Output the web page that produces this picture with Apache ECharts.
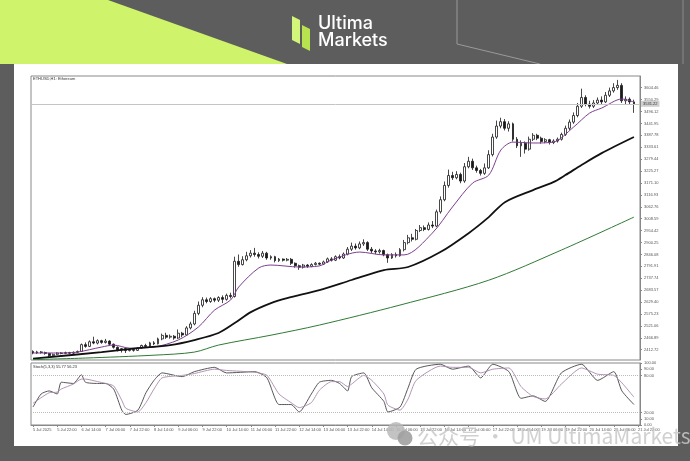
<!DOCTYPE html>
<html><head><meta charset="utf-8">
<script src="https://cdn.jsdelivr.net/npm/echarts@6/dist/echarts.min.js"></script>
<style>html,body{margin:0;padding:0;background:#5d5d5d;}#c{width:690px;height:461px;}</style>
</head><body><div id="c"></div>
<script>
// ---- data ----
const xLabels = ["5 Jul 2025","5 Jul 22:00","6 Jul 14:00","7 Jul 06:00","7 Jul 22:00","8 Jul 14:00","9 Jul 06:00","9 Jul 22:00","10 Jul 14:00","11 Jul 06:00","11 Jul 22:00","12 Jul 14:00","13 Jul 06:00","13 Jul 22:00","14 Jul 14:00","15 Jul 06:00","15 Jul 22:00","16 Jul 14:00","17 Jul 06:00","17 Jul 22:00","18 Jul 14:00","19 Jul 06:00","19 Jul 22:00","20 Jul 14:00","21 Jul 06:00","21 Jul 22:00"];
const priceTicks = [3604.46,3550.29,3496.12,3441.95,3387.78,3333.61,3279.44,3225.27,3171.10,3116.93,3062.76,3008.59,2954.42,2900.25,2846.08,2791.91,2737.74,2683.57,2629.40,2575.23,2521.06,2466.89,2412.72];
const stochTicks = [0,10,20,80,90,100];
// [open, close, low, high]
const ohlc = [
[2405,2398,2392,2410],[2398,2403,2394,2408],[2403,2400,2395,2407],[2400,2396,2390,2404],[2396,2386,2378,2399],
[2386,2392,2380,2395],[2392,2398,2389,2401],[2398,2396,2392,2402],[2396,2400,2393,2404],[2400,2397,2393,2403],
[2397,2401,2394,2405],[2401,2405,2398,2409],[2405,2436,2403,2441],[2436,2428,2422,2446],[2428,2449,2425,2455],
[2449,2443,2438,2472],[2443,2454,2437,2460],[2454,2446,2440,2458],[2446,2452,2441,2462],[2452,2438,2432,2456],
[2438,2424,2418,2441],[2424,2412,2405,2428],[2412,2418,2400,2421],[2418,2409,2398,2422],[2409,2414,2405,2419],
[2414,2410,2404,2418],[2410,2420,2407,2424],[2420,2432,2416,2436],[2432,2428,2423,2440],[2428,2444,2425,2449],
[2444,2440,2434,2452],[2440,2462,2437,2468],[2462,2478,2456,2486],[2478,2470,2462,2490],[2470,2474,2463,2482],
[2474,2466,2458,2480],[2466,2488,2462,2505],[2488,2480,2470,2494],[2480,2512,2476,2520],[2512,2530,2505,2540],
[2530,2578,2524,2590],[2578,2615,2570,2632],[2615,2640,2606,2652],[2640,2632,2624,2650],[2632,2645,2626,2652],
[2645,2638,2629,2650],[2638,2650,2630,2656],[2650,2642,2625,2660],[2642,2660,2636,2668],[2660,2655,2646,2672],
[2655,2815,2650,2836],[2815,2800,2790,2846],[2800,2822,2796,2838],[2822,2840,2815,2858],[2840,2852,2832,2866],
[2852,2846,2836,2876],[2846,2838,2828,2856],[2838,2852,2830,2862],[2852,2830,2822,2858],[2830,2836,2822,2842],
[2836,2818,2810,2840],[2818,2825,2812,2830],[2825,2820,2814,2828],[2820,2824,2815,2830],[2824,2806,2798,2830],
[2806,2795,2786,2810],[2795,2788,2776,2800],[2788,2798,2782,2803],[2798,2792,2785,2802],[2792,2800,2788,2806],
[2800,2806,2796,2812],[2806,2802,2797,2810],[2802,2812,2798,2818],[2812,2826,2808,2832],[2826,2820,2814,2834],
[2820,2836,2816,2842],[2836,2830,2824,2846],[2830,2848,2826,2855],[2848,2870,2842,2880],[2870,2884,2862,2900],
[2884,2876,2868,2896],[2876,2894,2870,2905],[2894,2900,2885,2915],[2900,2870,2862,2906],[2870,2862,2852,2880],
[2862,2858,2848,2870],[2858,2864,2850,2872],[2864,2845,2838,2868],[2845,2830,2808,2850],[2830,2846,2826,2852],
[2846,2840,2832,2855],[2840,2868,2836,2875],[2868,2900,2860,2912],[2900,2922,2892,2935],[2922,2915,2905,2940],
[2915,2955,2910,2962],[2955,2968,2948,2980],[2968,2960,2952,2978],[2960,2980,2955,2992],[2980,2975,2966,2998],
[2975,3040,2970,3050],[3040,3095,3032,3110],[3095,3160,3088,3178],[3160,3205,3150,3232],[3205,3195,3185,3222],
[3195,3210,3188,3225],[3210,3180,3170,3218],[3180,3245,3172,3262],[3245,3270,3238,3290],[3270,3240,3230,3282],
[3240,3228,3218,3250],[3228,3215,3205,3235],[3215,3240,3208,3260],[3240,3300,3235,3320],[3300,3380,3292,3395],
[3380,3430,3372,3455],[3430,3450,3420,3468],[3450,3420,3410,3462],[3420,3440,3405,3452],[3440,3370,3360,3446],
[3370,3340,3330,3380],[3340,3352,3290,3365],[3352,3325,3305,3360],[3325,3370,3318,3382],[3370,3388,3362,3398],
[3388,3375,3366,3395],[3375,3360,3350,3382],[3360,3368,3352,3375],[3368,3355,3346,3372],[3355,3362,3348,3370],
[3362,3370,3355,3378],[3370,3392,3364,3400],[3392,3420,3385,3432],[3420,3448,3412,3460],[3448,3478,3440,3492],
[3478,3520,3470,3535],[3520,3560,3512,3600],[3560,3530,3520,3570],[3530,3520,3510,3545],[3520,3535,3512,3548],
[3535,3548,3526,3560],[3548,3540,3530,3565],[3540,3570,3535,3585],[3570,3590,3562,3605],[3590,3605,3582,3625],
[3605,3615,3595,3640],[3615,3545,3535,3625],[3545,3552,3530,3565],[3552,3540,3528,3560],[3540,3531,3490,3550]
];
// moving averages, [bar index, value]
const maFast = [[0,2398],[7,2398],[11,2402],[17,2425],[20,2434],[24,2420],[30,2425],[36,2457],[41,2516],[45,2593],[49,2639],[51,2698],[56,2785],[59,2798],[66,2789],[71,2794],[74,2821],[81,2857],[87,2844],[92,2844],[99,2943],[104,3062],[109,3171],[113,3207],[116,3321],[119,3357],[124,3353],[129,3357],[134,3425],[138,3489],[141,3512],[146,3553],[149,3539]];
const maMid = [[0,2372],[17,2402],[26,2420],[34,2434],[40,2457],[46,2489],[50,2534],[54,2584],[59,2625],[63,2648],[71,2684],[79,2730],[87,2775],[93,2789],[101,2857],[108,2943],[113,3016],[117,3084],[124,3139],[129,3175],[132,3207],[136,3253],[141,3307],[149,3380]];
const maSlow = [[0,2368],[13,2375],[30,2388],[40,2402],[46,2434],[59,2479],[71,2525],[91,2616],[113,2729],[131,2866],[149,3016]];
const stochK = [[0,29],[2,50],[4,55],[6,50],[7,69],[10,67],[12,81],[13,69],[16,67],[18,67],[20,58],[22,24],[23,17],[26,24],[28,52],[30,72],[32,84],[37,78],[40,86],[45,93],[48,84],[55,86],[58,76],[61,33],[64,33],[66,21],[69,50],[71,69],[74,72],[76,67],[78,55],[79,78],[82,84],[84,60],[87,38],[88,21],[91,29],[93,60],[95,90],[101,98],[104,90],[108,95],[111,76],[114,98],[118,86],[121,43],[124,47],[127,38],[131,84],[136,98],[140,72],[144,86],[146,55],[149,33]];
const stochD = [[0,35],[2,44],[4,52],[6,53],[7,58],[10,66],[12,74],[13,74],[16,70],[18,67],[20,63],[22,40],[23,27],[26,21],[28,36],[30,58],[32,76],[37,80],[40,83],[45,90],[48,88],[55,85],[58,80],[61,50],[64,36],[66,28],[69,36],[71,56],[74,70],[76,70],[78,62],[79,66],[82,80],[84,72],[87,50],[88,32],[91,24],[93,42],[95,72],[101,95],[104,93],[108,93],[111,84],[114,90],[118,92],[121,62],[124,46],[127,42],[131,66],[136,92],[140,82],[144,80],[146,68],[149,45]];
const lastPrice = 3531.22;

// ---- chart ----
const nCats = ohlc.length + 1;
const cats = [];
for (let i = 0; i < nCats; i++) cats.push('b' + i);
const xFmt = (v, idx) => (idx % 6 === 0 && xLabels[idx / 6]) ? xLabels[idx / 6] : '';
const small = {fontFamily: 'Liberation Sans', color: '#555'};

const chart = echarts.init(document.getElementById('c'), null, {renderer: 'canvas'});
chart.setOption({
  animation: false,
  backgroundColor: '#5d5d5d',
  graphic: [
    {type: 'polygon', z: -10, shape: {points: [[0,0],[108,0],[287,64],[0,64]]}, style: {fill: '#cff36b'}},
    {type: 'polyline', z: -10, shape: {points: [[457,0],[457,44],[540,64]]}, style: {stroke: '#9a9a9a', lineWidth: 1, fill: null}},
    {type: 'polyline', z: -10, shape: {points: [[683,0],[683,64]]}, style: {stroke: '#8a8a8a', lineWidth: 1, fill: null}},
    {type: 'polygon', z: -10, shape: {points: [[292,16],[300,20],[300,44],[292,40]]}, style: {fill: '#d3f57a'}},
    {type: 'polygon', z: -10, shape: {points: [[302,25],[310,29],[310,51],[302,47]]}, style: {fill: '#b9e24f'}},
    {type: 'text', z: -10, style: {text: 'Ultima', x: 318, y: 15, fill: '#ffffff', font: '500 18px "Inter", "Liberation Sans", sans-serif'}},
    {type: 'text', z: -10, style: {text: 'Markets', x: 318, y: 32, fill: '#ffffff', font: '500 18px "Inter", "Liberation Sans", sans-serif'}},
    {type: 'rect', z: -10, shape: {x: 14, y: 64, width: 664, height: 382}, style: {fill: '#ffffff'}},
    {type: 'text', z: 10, style: {text: 'ETHUSD,H1: Ethereum', x: 33, y: 77, fill: '#333', font: '4px "Liberation Sans"'}},
    {type: 'text', z: 10, style: {text: 'Stoch(5,3,3) 55.77 56.23', x: 33, y: 365, fill: '#333', font: '4px "Liberation Sans"'}},
    {type: 'circle', z: 100, shape: {cx: 396, cy: 431, r: 9}, style: {fill: 'rgba(185,185,185,0.85)'}},
    {type: 'circle', z: 101, shape: {cx: 405, cy: 438, r: 7.5}, style: {fill: 'rgba(160,160,160,0.9)'}},
    {type: 'text', z: 100, style: {text: '公众号 · UM UltimaMarkets', x: 417, y: 436, verticalAlign: 'middle', fill: 'rgba(200,200,200,0.85)', font: '21px "Noto Sans CJK SC", "Noto Sans", sans-serif'}}
  ],
  grid: [
    {left: 31, right: 50, top: 76, height: 284, show: true, borderColor: '#888', borderWidth: 1, backgroundColor: 'transparent'},
    {left: 31, right: 50, top: 363, height: 62, show: true, borderColor: '#888', borderWidth: 1, backgroundColor: 'transparent'}
  ],
  xAxis: [
    {type: 'category', gridIndex: 0, data: cats, boundaryGap: true, axisLine: {show: false}, axisTick: {show: false}, axisLabel: {show: false}, splitLine: {show: false}},
    {type: 'category', gridIndex: 1, data: cats, boundaryGap: true,
     axisLine: {lineStyle: {color: '#888'}},
     axisTick: {show: true, interval: 5, alignWithLabel: true, length: 2, lineStyle: {color: '#888'}},
     axisLabel: Object.assign({show: true, interval: 5, formatter: xFmt, fontSize: 4, align: 'left', margin: 3}, small),
     splitLine: {show: false}}
  ],
  yAxis: [
    {type: 'value', gridIndex: 0, position: 'right', min: 2366.1, max: 3657.7, scale: true,
     axisLine: {show: true, lineStyle: {color: '#888'}},
     axisTick: {show: true, customValues: priceTicks, length: 2, lineStyle: {color: '#888'}},
     axisLabel: Object.assign({customValues: priceTicks, formatter: v => v.toFixed(2), fontSize: 4, margin: 4}, small),
     splitLine: {show: false}},
    {type: 'value', gridIndex: 1, position: 'right', min: 0, max: 100,
     axisLine: {show: true, lineStyle: {color: '#888'}},
     axisTick: {show: true, customValues: stochTicks, length: 2, lineStyle: {color: '#888'}},
     axisLabel: Object.assign({customValues: stochTicks, formatter: v => v.toFixed(2), fontSize: 4, margin: 4}, small),
     splitLine: {show: false}}
  ],
  series: [
    {type: 'candlestick', xAxisIndex: 0, yAxisIndex: 0, data: ohlc, barWidth: 2.4,
     itemStyle: {color: '#ffffff', color0: '#1a1a1a', borderColor: '#1a1a1a', borderColor0: '#1a1a1a', borderWidth: 0.8},
     markLine: {symbol: 'none', silent: true, data: [{yAxis: lastPrice}],
       lineStyle: {color: '#c4c4c4', type: 'solid', width: 1},
       label: {position: 'end', distance: 1, formatter: () => lastPrice.toFixed(2), fontSize: 4, color: '#333', backgroundColor: '#d0d0d0', padding: [1, 2], fontFamily: 'Liberation Sans'}}},
    {type: 'line', xAxisIndex: 0, yAxisIndex: 0, data: maFast, showSymbol: false, smooth: 0.3, lineStyle: {color: '#7d3f8f', width: 1}},
    {type: 'line', xAxisIndex: 0, yAxisIndex: 0, data: maMid, showSymbol: false, smooth: 0.3, lineStyle: {color: '#111111', width: 1.8}},
    {type: 'line', xAxisIndex: 0, yAxisIndex: 0, data: maSlow, showSymbol: false, smooth: 0.3, lineStyle: {color: '#2f7a34', width: 1}},
    {type: 'line', xAxisIndex: 1, yAxisIndex: 1, data: stochK, showSymbol: false, smooth: 0.2, lineStyle: {color: '#444', width: 0.9},
     markLine: {symbol: 'none', silent: true, label: {show: false}, data: [{yAxis: 80}, {yAxis: 20}], lineStyle: {color: '#bbb', type: 'dotted', width: 1}}},
    {type: 'line', xAxisIndex: 1, yAxisIndex: 1, data: stochD, showSymbol: false, smooth: 0.2, lineStyle: {color: '#a88aaa', width: 0.9}}
  ]
});
</script></body></html>
